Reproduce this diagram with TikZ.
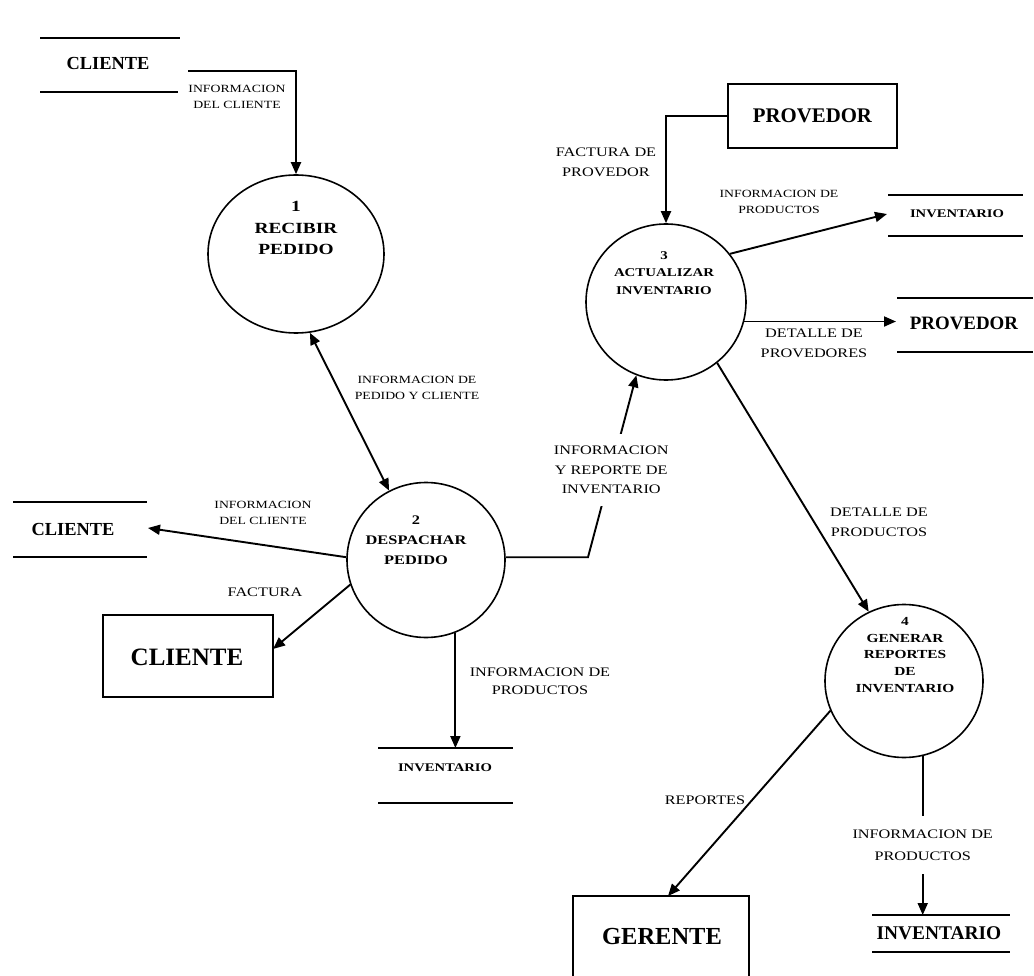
\documentclass[tikz,border=0pt]{standalone}
\usepackage{fontspec}
\setmainfont{Liberation Serif}
\newfontfamily\widefont[FakeStretch=1.25]{Liberation Serif}
\usetikzlibrary{arrows.meta,shapes.geometric,calc}

\begin{document}
\begin{tikzpicture}[x=1pt,y=-1pt,
  flow/.style={line width=1.9pt,-{Triangle[length=12pt,width=10pt]}},
  flowboth/.style={line width=1.9pt,{Triangle[length=12pt,width=10pt]}-{Triangle[length=12pt,width=10pt]}},
  proc/.style={draw,line width=1.6pt,ellipse,inner sep=0pt},
  ent/.style={draw,line width=1.9pt,inner sep=0pt},
  storeline/.style={line width=1.9pt},
  ptxt/.style={align=center,inner sep=0pt},
  lbl/.style={align=center,inner sep=0pt,font=\widefont\fontsize{11}{16.5}\selectfont},
  lblL/.style={align=center,inner sep=0pt,font=\widefont\fontsize{13}{20}\selectfont},
  onlbl/.style={lblL,fill=white,inner xsep=1pt},
  bigtxt/.style={inner sep=0pt,font=\bfseries\fontsize{#1}{#1}\selectfont},
  smalltxt/.style={inner sep=0pt,font=\widefont\bfseries\fontsize{11.7}{12}\selectfont}
]
\useasboundingbox (0,0) rectangle (1034,976);
\clip (0,0) rectangle (1034,976);
\fill[white] (0,0) rectangle (1034,976);

% processes
\node[proc,minimum width=176pt,minimum height=158pt] (p1) at (296,254) {};
\node[proc,minimum width=158pt,minimum height=155pt] (p2) at (426,560) {};
\node[proc,minimum width=160pt,minimum height=156pt] (p3) at (666,302) {};
\node[proc,minimum width=158pt,minimum height=153pt] (p4) at (904,681) {};

\node[ptxt,font=\widefont\bfseries\fontsize{15.5}{21.5}\selectfont] (p1t) at (296,228) {1\\RECIBIR\\PEDIDO};
\node[ptxt,font=\widefont\bfseries\fontsize{13.1}{20}\selectfont] (p2t) at (416,540) {2\\DESPACHAR\\PEDIDO};
\node[ptxt,font=\widefont\bfseries\fontsize{11.9}{17.5}\selectfont] (p3t) at (664,273) {3\\ACTUALIZAR\\INVENTARIO};
\node[ptxt,font=\widefont\bfseries\fontsize{12.3}{16.6}\selectfont] (p4t) at (905,655) {4\\GENERAR\\REPORTES\\DE\\INVENTARIO};

% external entities
\node[ent,minimum width=169pt,minimum height=64pt] (e1) at (812.5,116) {};
\node[bigtxt=20.8] (e1t) at (812.5,116) {PROVEDOR};
\node[ent,minimum width=170pt,minimum height=82pt] (e2) at (188,656) {};
\node[bigtxt=25] (e2t) at (187,657) {CLIENTE};
\node[ent,minimum width=176pt,minimum height=82pt] (e3) at (661,937) {};
\node[bigtxt=24.5] (e3t) at (662,937) {GERENTE};

% data stores
\node[bigtxt=18.4] (s1) at (108,64) {CLIENTE};
\draw[storeline] (40,38) -- (180,38) (40,92) -- (178,92);
\node[bigtxt=18.4] (s2) at (73,529) {CLIENTE};
\draw[storeline] (13,502) -- (147,502) (13,557) -- (147,557);
\node[smalltxt] (s3) at (445,768) {INVENTARIO};
\draw[storeline] (378,748) -- (513,748) (378,803) -- (513,803);
\node[smalltxt] (s4) at (957,214) {INVENTARIO};
\draw[storeline] (888,195) -- (1023,195) (888,236) -- (1023,236);
\node[bigtxt=18.9] (s5) at (964,323) {PROVEDOR};
\draw[storeline] (897,298) -- (1033,298) (897,352) -- (1033,352);
\node[bigtxt=19.4] (s6) at (939,933) {INVENTARIO};
\draw[storeline] (872,915) -- (1010,915) (872,952) -- (1010,952);

% connector end points at the stores and boxes
\coordinate (s1out) at (188,71);
\coordinate (s2in) at (148,528);
\coordinate (s3in) at (455,748);
\coordinate (s4in) at (887,214);
\coordinate (s5in) at (896,322);
\coordinate (s6in) at (923,915);
\coordinate (e2in) at (273,649);
\coordinate (e3in) at (668,896);
\coordinate (k23) at (588,557);

% data flows
\draw[flow] (s1out) -| (p1.north);
\node[lbl,font=\widefont\fontsize{11}{16}\selectfont] (l1) at (237,97) {INFORMACION\\DEL CLIENTE};

\draw[flowboth] (p1.-80) -- (p2.118);
\node[lbl] (l2) at (417,388) {INFORMACION DE\\PEDIDO Y CLIENTE};

\draw[flow] (p2.178) -- (s2in);
\node[lbl] (l3) at (263,513) {INFORMACION\\DEL CLIENTE};

\draw[flow] (p2.198) -- (e2in);
\node[lblL] (l4) at (265,592) {FACTURA};

\draw[flow] (p2.-68) -- (p2.-68 |- s3in);
\node[lblL,font=\widefont\fontsize{13}{18}\selectfont] (l5) at (540,681) {INFORMACION DE\\PRODUCTOS};

\draw[flow] (p2.2) -- (p2.2 -| k23) -- node[onlbl,pos=0.48,inner ysep=12pt,font=\widefont\fontsize{13}{19.5}\selectfont] (l6) {INFORMACION\\Y REPORTE DE\\INVENTARIO} (p3.248);

\draw[flow] (e1.west) -| (p3.north);
\node[lblL] (l7) at (606,162) {FACTURA DE\\PROVEDOR};

\draw[flow] (p3.37) -- (s4in);
\node[lbl] (l8) at (779,202) {INFORMACION DE\\PRODUCTOS};

\draw[flow] (p3.-14) -- (p3.-14 -| s5in);
\node[lblL] (l9) at (814,343) {DETALLE DE\\PROVEDORES};

\draw[flow] (p3.-50) -- (p4.117);
\node[lblL] (l10) at (879,522) {DETALLE DE\\PRODUCTOS};

\draw[flow] (p4.202) -- (e3in);
\node[lblL] (l11) at (705,800) {REPORTES};

\draw[flow] (p4.-76) -- node[onlbl,pos=0.56,inner ysep=14pt,font=\widefont\fontsize{13}{22}\selectfont] (l12) {INFORMACION DE\\PRODUCTOS} (p4.-76 |- s6in);
\end{tikzpicture}
\end{document}
